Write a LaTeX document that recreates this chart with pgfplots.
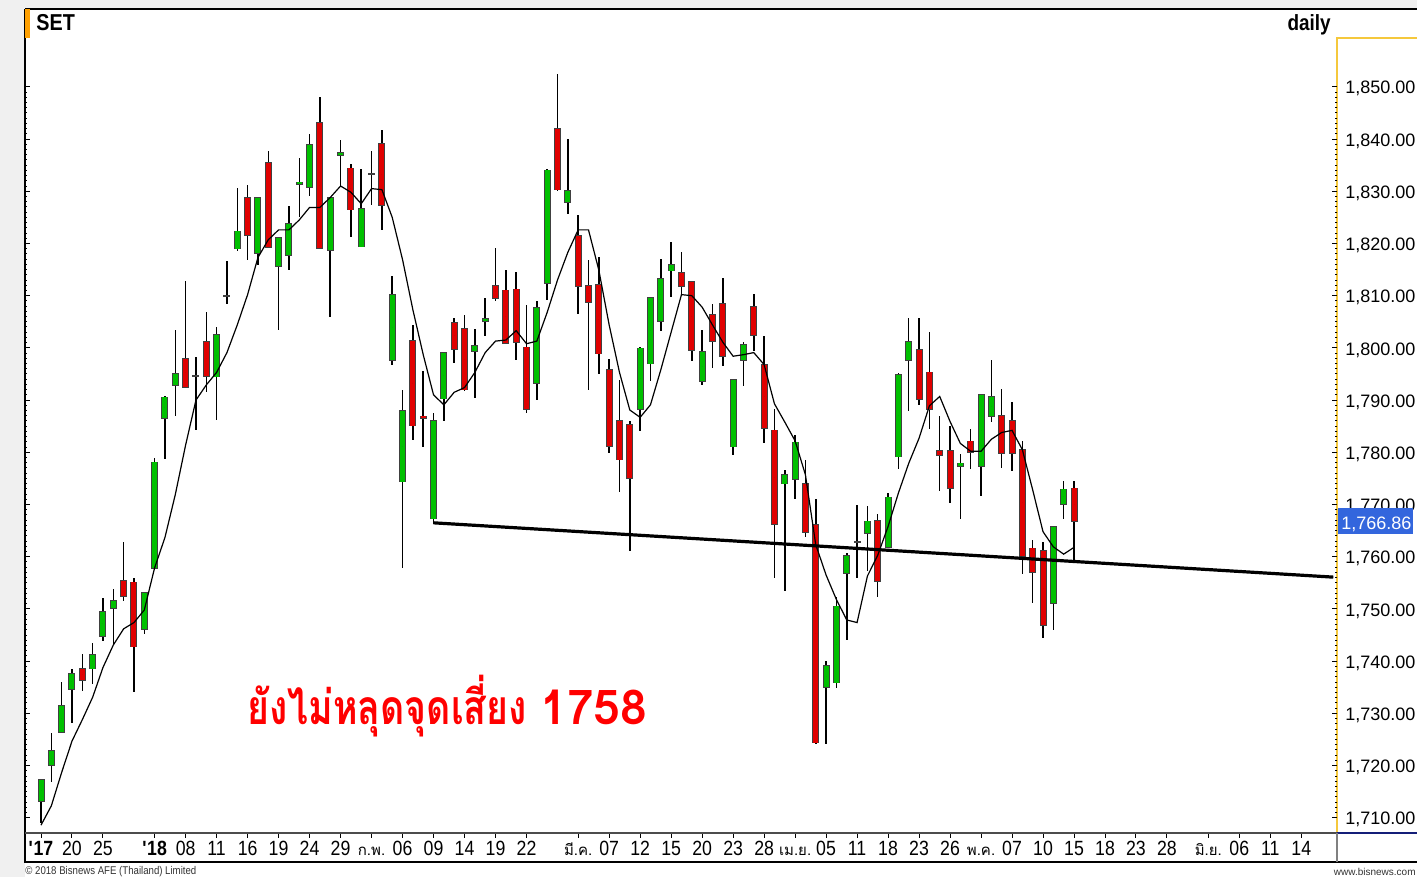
\documentclass[border=0pt]{standalone}
\usepackage{fontspec}
\setmainfont{Liberation Sans}
\newfontfamily\narrow[FakeStretch=0.86]{Liberation Sans}
\newfontfamily\thai[Script=Thai]{Loma}
\newfontfamily\thaic[Script=Thai, FakeStretch=0.78]{Loma}
\usepackage{pgfplots}
\pgfplotsset{compat=1.18}
\usepackage{pgfplotstable}

\definecolor{cgreen}{RGB}{0,192,0}
\definecolor{cred}{RGB}{224,0,0}
\definecolor{cgold}{RGB}{245,200,60}
\definecolor{cblue}{RGB}{51,102,221}
\definecolor{cgray}{RGB}{240,240,240}
\definecolor{corange}{RGB}{255,160,0}
\definecolor{cnavy}{RGB}{20,30,120}

\pgfplotstableread{
i O H L C MA
0 1713.2 1717.4 1709.0 1717.2 1708.6
1 1720.1 1726.2 1716.8 1722.8 1712.3
2 1726.5 1736.0 1726.3 1731.4 1718.7
3 1734.7 1738.5 1728.2 1737.5 1724.7
4 1738.5 1741.3 1734.3 1736.4 1728.8
5 1738.6 1743.4 1735.6 1741.2 1733.1
6 1744.8 1752.1 1743.8 1749.5 1738.8
7 1750.2 1753.9 1743.1 1751.6 1743.1
8 1755.4 1762.8 1751.5 1752.4 1746.2
9 1755.1 1755.9 1734.1 1742.8 1747.4
10 1746.2 1753.3 1745.2 1753.1 1749.8
11 1757.9 1779.0 1757.5 1778.1 1757.9
12 1786.5 1790.8 1778.8 1790.5 1763.7
13 1792.9 1803.5 1787.0 1795.0 1771.9
14 1797.9 1812.8 1792.4 1792.5 1781.4
15 1794.7 1798.3 1784.3 1794.7 1790.0
16 1801.2 1806.8 1791.6 1794.6 1792.9
17 1794.5 1804.0 1786.2 1802.5 1795.3
18 1809.9 1816.6 1808.4 1809.9 1799.1
19 1819.0 1830.6 1818.5 1822.3 1804.4
20 1828.7 1831.2 1816.9 1821.6 1810.2
21 1818.1 1828.9 1815.9 1828.7 1817.3
22 1835.5 1837.7 1819.1 1819.3 1820.7
23 1815.6 1821.1 1803.4 1821.1 1822.6
24 1817.8 1827.1 1815.0 1823.8 1822.6
25 1831.4 1836.4 1825.0 1831.7 1824.5
26 1830.8 1841.0 1829.1 1838.8 1826.9
27 1843.1 1848.0 1819.1 1819.1 1826.9
28 1818.8 1828.8 1805.9 1828.8 1828.8
29 1837.0 1839.8 1830.9 1837.3 1831.0
30 1834.4 1835.3 1821.2 1826.5 1829.8
31 1819.4 1834.2 1819.4 1826.6 1827.6
32 1833.4 1837.7 1827.4 1833.4 1830.5
33 1839.1 1841.8 1822.5 1827.3 1830.3
34 1797.7 1813.7 1796.8 1810.2 1825.0
35 1774.4 1791.9 1757.9 1787.9 1816.9
36 1801.3 1804.4 1782.4 1785.1 1807.3
37 1786.9 1795.6 1781.0 1786.6 1798.7
38 1767.3 1787.6 1766.3 1786.0 1791.0
39 1790.3 1799.0 1786.0 1799.0 1789.1
40 1804.8 1805.7 1797.1 1799.8 1791.5
41 1803.6 1806.4 1791.8 1792.0 1792.4
42 1799.4 1803.6 1790.5 1800.4 1795.3
43 1805.2 1809.5 1802.2 1805.6 1799.1
44 1811.9 1819.2 1808.9 1809.6 1801.3
45 1811.0 1814.9 1800.8 1800.9 1801.5
46 1811.2 1814.6 1797.6 1801.1 1803.3
47 1800.1 1808.2 1787.5 1788.3 1800.8
48 1793.3 1809.0 1790.0 1807.7 1801.3
49 1812.4 1834.3 1809.2 1834.0 1806.8
50 1841.9 1852.5 1830.1 1830.3 1813.0
51 1827.9 1840.0 1825.7 1830.0 1818.3
52 1821.5 1825.5 1806.5 1811.9 1822.6
53 1811.9 1816.9 1791.9 1808.8 1822.6
54 1812.1 1817.5 1795.0 1798.9 1814.9
55 1795.8 1797.9 1779.8 1781.2 1804.4
56 1786.0 1793.9 1772.5 1778.6 1795.3
57 1785.3 1786.0 1761.1 1775.0 1788.1
58 1788.3 1800.1 1784.0 1799.9 1786.7
59 1797.0 1809.6 1793.6 1809.6 1789.1
60 1805.2 1817.1 1803.3 1813.2 1795.8
61 1814.8 1820.2 1809.7 1815.9 1803.0
62 1814.3 1818.3 1810.2 1811.8 1810.2
63 1812.6 1812.6 1797.4 1799.6 1810.0
64 1793.6 1803.5 1792.9 1799.3 1807.8
65 1806.3 1808.4 1796.1 1801.3 1804.4
66 1808.5 1813.3 1796.6 1798.4 1801.1
67 1781.1 1793.9 1779.5 1793.9 1798.4
68 1797.7 1801.1 1792.7 1800.6 1798.7
69 1807.9 1810.3 1799.4 1802.5 1799.1
70 1796.7 1802.3 1781.7 1784.6 1796.8
71 1784.2 1788.4 1756.0 1766.3 1789.3
72 1774.0 1776.6 1753.5 1775.7 1785.8
73 1774.9 1783.3 1771.1 1781.9 1782.2
74 1773.9 1778.6 1763.7 1764.7 1775.7
75 1766.1 1771.1 1724.2 1724.4 1762.3
76 1735.0 1740.1 1724.2 1739.1 1756.5
77 1735.9 1752.2 1734.8 1750.5 1751.8
78 1756.8 1760.8 1744.1 1760.2 1747.9
79 1762.9 1769.9 1756.0 1762.9 1747.4
80 1764.6 1769.8 1757.3 1766.8 1756.3
81 1766.8 1768.2 1752.2 1755.4 1760.3
82 1761.8 1772.2 1761.6 1771.4 1765.8
83 1779.2 1795.2 1776.8 1794.8 1772.2
84 1797.7 1805.7 1787.9 1801.1 1777.9
85 1799.6 1805.7 1789.1 1790.2 1782.7
86 1795.3 1803.1 1784.4 1788.3 1788.9
87 1780.3 1786.9 1772.5 1779.4 1790.7
88 1780.3 1785.1 1770.3 1773.1 1785.9
89 1777.3 1779.7 1767.2 1777.9 1781.7
90 1782.1 1784.4 1776.9 1780.1 1780.2
91 1777.3 1791.1 1771.7 1791.0 1780.2
92 1786.9 1797.6 1785.9 1790.7 1782.5
93 1787.0 1792.1 1777.1 1779.8 1783.8
94 1786.0 1789.7 1776.4 1779.8 1784.2
95 1780.5 1782.1 1756.7 1760.2 1780.5
96 1761.6 1763.2 1751.2 1757.0 1772.8
97 1761.1 1762.9 1744.5 1746.9 1764.8
98 1751.1 1765.9 1746.0 1765.8 1761.9
99 1770.1 1774.6 1767.2 1772.9 1760.5
100 1773.1 1774.6 1759.4 1766.86 1761.8
}\candles

\pgfplotsset{
  candlepart/.style={only marks, mark=none, mark size=0pt,
    mark options={draw=none, fill=none}, forget plot,
    error bars/.cd, y dir=both, y explicit, error mark=none},
}

\begin{document}
\begin{tikzpicture}
\useasboundingbox (0,0) rectangle (708.5pt,438.5pt);
\begin{scope}[shift={(0pt,438.5pt)}, x=0.5pt, y=-0.5pt]
  \fill[cgray] (0,0) rectangle (1417,877);
  \fill[white] (25,9) rectangle (1417,877);
  \draw[cgold, line width=0.7pt] (1337,833) -- (1337,38) -- (1417,38);
\end{scope}
\begin{axis}[
  at={(12.5pt,22pt)}, anchor=south west,
  scale only axis, width=656pt, height=412pt,
  xmin=-1.549, xmax=125.46, ymin=1707.1, ymax=1864.9,
  axis line style={draw=none},
  tick align=inside,
  major tick length=2.5pt, minor tick length=1.2pt,
  tick style={black, line width=0.5pt},
  every major x tick/.append style={yshift=-2.5pt},
  xtick pos=bottom,
  xtick={0,3,6,11,14,17,20,23,26,29,32,35,38,41,44,47,52,55,58,61,64,67,70,73,76,79,82,85,88,91,94,97,100,103,106,109,113,116,119,122},
  xticklabels={{\bfseries\textquotesingle17},20,25,{\bfseries\textquotesingle18},08,11,16,19,24,29,{\thai\fontsize{7.5}{8}\selectfont ก.พ.},06,09,14,19,22,{\thai\fontsize{7.5}{8}\selectfont มี.ค.},07,12,15,20,23,28,{\thai\fontsize{7.5}{8}\selectfont เม.ย.},05,11,18,23,26,{\thai\fontsize{7.5}{8}\selectfont พ.ค.},07,10,15,18,23,28,{\thai\fontsize{7.5}{8}\selectfont มิ.ย.},06,11,14},
  xticklabel style={font=\narrow\fontsize{10.3}{11}\selectfont, anchor=base, inner sep=0pt, yshift=-11.5pt},
  ytick={1710,1720,...,1850},
  minor y tick num=9,
  ytick pos=both, yticklabel pos=right,
  /pgf/number format/assume math mode=true,
  yticklabel style={font=\fontsize{9}{10}\selectfont, anchor=west, inner sep=0pt, xshift=4pt, yshift=-1pt,
    /pgf/number format/fixed, /pgf/number format/fixed zerofill,
    /pgf/number format/precision=2, /pgf/number format/1000 sep={,}},
]
% wicks
\addplot [candlepart, error bar style={black, line width=0.75pt}]
  table [x=i, y expr={(\thisrow{H}+\thisrow{L})/2}, y error expr={(\thisrow{H}-\thisrow{L})/2}] {\candles};
% body outlines
\addplot [candlepart, error bar style={black!75, line width=3.5pt}]
  table [x=i, y expr={(\thisrow{O}+\thisrow{C})/2}, y error expr={abs(\thisrow{O}-\thisrow{C})/2+0.15}] {\candles};
% green bodies
\addplot [candlepart, error bar style={cgreen, line width=2.5pt}]
  table [x=i, y expr={(\thisrow{O}+\thisrow{C})/2}, y error expr={max(\thisrow{C}-\thisrow{O},0)/2}] {\candles};
% red bodies
\addplot [candlepart, error bar style={cred, line width=2.5pt}]
  table [x=i, y expr={(\thisrow{O}+\thisrow{C})/2}, y error expr={max(\thisrow{O}-\thisrow{C},0)/2}] {\candles};
% moving average
\addplot [black, line width=0.6pt, mark=none] table [x=i, y=MA] {\candles};
% support line
\addplot [black, line width=1.6pt, mark=none] coordinates {(38,1766.5) (125.1,1756.1)};
\end{axis}
\begin{scope}[shift={(0pt,438.5pt)}, x=0.5pt, y=-0.5pt]
  \draw[black, line width=0.6pt] (25,9) -- (1417,9);
  \draw[black, line width=0.6pt] (25,9) -- (25,862) -- (1417,862);
  \draw[black!70, line width=0.6pt] (25,833) -- (1337,833);
  \draw[cnavy, line width=0.8pt] (1337,833) -- (1417,833);
  \draw[gray, line width=0.6pt] (1337,833) -- (1337,862);
  \fill[corange] (25,9) rectangle (30,38);
  \node[anchor=base west, inner sep=0pt, font=\narrow\bfseries\fontsize{11.5}{12}\selectfont] at (36,31) {SET};
  \node[anchor=base east, inner sep=0pt, font=\narrow\bfseries\fontsize{11}{12}\selectfont] at (1331,31) {daily};
  \fill[cblue] (1338,508) rectangle (1413,534);
  \node[anchor=base west, inner sep=0pt, text=white, font=\fontsize{9}{10}\selectfont] at (1341,530) {1,766.86};
  \node[anchor=base west, inner sep=0pt, text=red, font=\thaic\bfseries\fontsize{24}{28}\selectfont] at (247,725) {ยังไม่หลุดจุดเสี่ยง};
  \node[anchor=base west, inner sep=0pt, text=red, font=\thai\bfseries\fontsize{24}{28}\selectfont] at (540,725) {1758};
  \node[anchor=base west, inner sep=0pt, text=black!80, font=\narrow\fontsize{5.6}{6}\selectfont] at (25,874) {\textcopyright{} 2018 Bisnews AFE (Thailand) Limited};
  \node[anchor=base east, inner sep=0pt, text=black!80, font=\fontsize{5}{6}\selectfont] at (1416,875) {www.bisnews.com};
\end{scope}
\end{tikzpicture}
\end{document}
